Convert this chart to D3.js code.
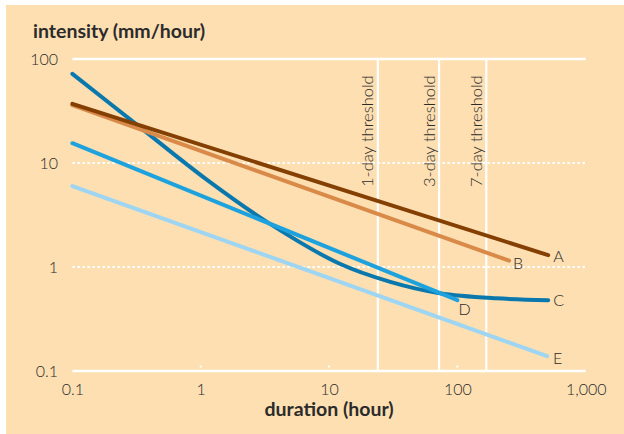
<!DOCTYPE html>
<html>
<head>
<meta charset="utf-8">
<script src="https://cdn.jsdelivr.net/npm/d3@7"></script>
<style>
  html, body { margin: 0; padding: 0; background: #ffffff; }
  svg { display: block; }
  text { font-family: Lato, "Open Sans", sans-serif; fill: #2b2b2b; }
</style>
</head>
<body>
<svg id="chart" width="624" height="434"></svg>
<script>
// Rainfall intensity against duration, log-log
const durationTicks = [0.1, 1, 10, 100, 1000];
const durationTickLabels = ["0.1", "1", "10", "100", "1,000"];
const intensityTicks = [0.1, 1, 10, 100];
const intensityTickLabels = ["0.1", "1", "10", "100"];

const thresholdHours = [24, 72, 168];
const thresholdLabels = ["1-day threshold", "3-day threshold", "7-day threshold"];

// [duration (hour), intensity (mm/hour)]
const seriesA = [[0.1, 37], [510, 1.3]];
const seriesB = [[0.1, 36], [253, 1.15]];
const seriesC = [[0.1, 72], [0.33, 22.5], [1.1, 7.0], [3.3, 2.7], [12, 1.08],
                 [30, 0.72], [73, 0.56], [200, 0.5], [510, 0.48]];
const seriesD = [[0.1, 15.5], [100, 0.48]];
const seriesE = [[0.1, 6.0], [500, 0.139]];

const seriesNames = ["E", "C", "D", "B", "A"];
const seriesData = { A: seriesA, B: seriesB, C: seriesC, D: seriesD, E: seriesE };

const colors = { A: "#843f02", B: "#d98a48", C: "#0a78ad", D: "#1ea2de", E: "#9dd5f3" };
const labelOffset = { A: [5, 1], B: [4, 3], C: [5, 0], D: [1, 9], E: [6, 2] };

const svg = d3.select("#chart");
const W = 624, H = 434;
const plotLeft = 72.4, plotRight = 585.7, plotTop = 59, plotBottom = 371;

svg.append("rect").attr("x", 6).attr("y", 5).attr("width", W - 6).attr("height", H - 5)
  .attr("fill", "#fddfb2");

const x = d3.scaleLog().domain([0.1, 1000]).range([plotLeft, plotRight]);
const y = d3.scaleLog().domain([0.1, 100]).range([plotBottom, plotTop]);

// horizontal grid: solid at the extremes, dotted in between
const grid = svg.append("g");
intensityTicks.forEach(v => {
  const solid = (v === 100 || v === 0.1);
  grid.append("line")
    .attr("x1", plotLeft).attr("x2", plotRight)
    .attr("y1", y(v)).attr("y2", y(v))
    .attr("stroke", "#ffffff")
    .attr("stroke-width", solid ? 2.5 : 2)
    .attr("stroke-dasharray", solid ? null : "2.5,2.5");
});

// small tick dots on the duration axis
durationTicks.slice(1, -1).forEach(v => {
  grid.append("rect")
    .attr("x", x(v) - 1).attr("y", plotBottom - 5.5)
    .attr("width", 2).attr("height", 2)
    .attr("fill", "#ffffff");
});

// threshold lines
const thr = svg.append("g");
thresholdHours.forEach((h, i) => {
  thr.append("line")
    .attr("x1", x(h)).attr("x2", x(h))
    .attr("y1", plotTop).attr("y2", plotBottom)
    .attr("stroke", "#ffffff").attr("stroke-width", 2.2);
  thr.append("text")
    .attr("transform", `translate(${x(h) - 4.5},187) rotate(-90)`)
    .attr("font-size", 16.5).attr("font-weight", 300)
    .text(thresholdLabels[i]);
});

// axes (tick labels only)
const xAxis = d3.axisBottom(x).tickValues(durationTicks)
  .tickFormat((d, i) => durationTickLabels[i]).tickSize(0).tickPadding(0);
const gx = svg.append("g").attr("transform", `translate(0,${plotBottom})`).call(xAxis);
gx.select(".domain").remove();
gx.selectAll("text").attr("y", 18).attr("dy", "0.35em")
  .attr("font-size", 16).attr("font-weight", 300)
  .style("font-family", "Lato, 'Open Sans', sans-serif").attr("fill", "#2b2b2b");

const yAxis = d3.axisLeft(y).tickValues(intensityTicks)
  .tickFormat((d, i) => intensityTickLabels[i]).tickSize(0).tickPadding(0);
const gy = svg.append("g").attr("transform", `translate(58,0)`).call(yAxis);
gy.select(".domain").remove();
gy.selectAll("text").attr("x", 0).attr("dy", "0.35em")
  .attr("font-size", 16).attr("font-weight", 300)
  .style("font-family", "Lato, 'Open Sans', sans-serif").attr("fill", "#2b2b2b");

// series
const line = d3.line().x(d => x(d[0])).y(d => y(d[1])).curve(d3.curveCatmullRom.alpha(0.5));
const marks = svg.append("g");
seriesNames.forEach(name => {
  const data = seriesData[name];
  marks.append("path")
    .datum(data)
    .attr("d", line)
    .attr("fill", "none")
    .attr("stroke", colors[name])
    .attr("stroke-width", 4)
    .attr("stroke-linecap", "round");
  const last = data[data.length - 1];
  marks.append("text")
    .attr("x", x(last[0]) + labelOffset[name][0])
    .attr("y", y(last[1]) + labelOffset[name][1])
    .attr("dy", "0.35em")
    .attr("font-size", 16).attr("font-weight", 300)
    .text(name);
});

// titles
svg.append("text").attr("x", 33).attr("y", 38)
  .attr("font-size", 19.5).attr("font-weight", 700)
  .text("intensity (mm/hour)");
svg.append("text").attr("x", (plotLeft + plotRight) / 2).attr("y", 416)
  .attr("text-anchor", "middle")
  .attr("font-size", 19.5).attr("font-weight", 700)
  .text("duration (hour)");
</script>
</body>
</html>
